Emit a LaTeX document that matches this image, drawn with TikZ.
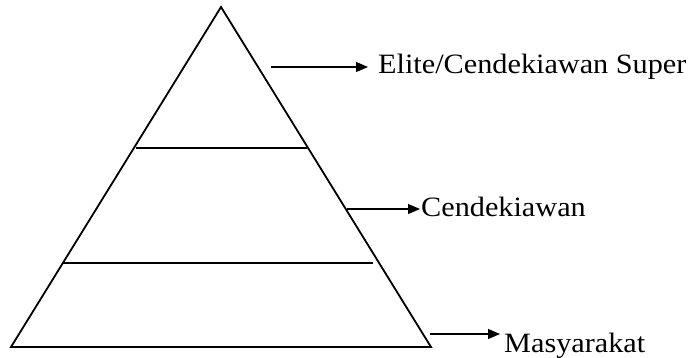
\documentclass[tikz,border=0pt]{standalone}
\usepackage{fontspec}
\setmainfont{Liberation Serif}
\usepackage{graphicx}
\usepackage{tikz}
\usetikzlibrary{positioning,calc,arrows.meta}
\newcommand{\tierfont}{\fontsize{28}{32}\selectfont}
\newcommand{\tiertext}[1]{\scalebox{1.08}[1]{#1}}
\tikzset{
  tier/.style={draw=black, line width=1.8pt, line join=miter},
  divider/.style={draw=black, line width=1.6pt},
  pointer/.style={-{Triangle[length=12pt,width=10pt]}, line width=1.2pt},
  tierlabel/.style={inner sep=0pt, font=\tierfont},
}

\begin{document}
\begin{tikzpicture}[x=1pt, y=-1pt]
  \useasboundingbox (0,0) rectangle (692,357);

  % pyramid
  \coordinate (apex) at (221,7);
  \coordinate (baseL) at (11,347);
  \coordinate (baseR) at (431,347);
  \draw[tier] (apex) -- (baseR) -- (baseL) -- cycle;

  % levels
  \coordinate (cutAL) at (136,148);
  \coordinate (cutAR) at (307,148);
  \coordinate (cutBL) at (63,263);
  \coordinate (cutBR) at (373,263);
  \draw[divider] (cutAL) -- (cutAR);
  \draw[divider] (cutBL) -- (cutBR);

  % labels
  \node[tierlabel, anchor=base west] (elite) at (378,73) {\tiertext{Elite/Cendekiawan Super}};
  \node[tierlabel, anchor=base west] (cendekia) at (421,216) {\tiertext{Cendekiawan}};
  \node[tierlabel, anchor=base west] (masy) at (504,352) {\tiertext{Masyarakat}};

  \coordinate (fromElite) at (271,67);
  \coordinate (fromCendekia) at (347,209);
  \coordinate (fromMasy) at (430,334);

  \draw[pointer, shorten >=10pt] (fromElite) -- (fromElite -| elite.west);
  \draw[pointer, shorten >=1pt] (fromCendekia) -- (fromCendekia -| cendekia.west);
  \draw[pointer, shorten >=4pt] (fromMasy) -- (fromMasy -| masy.west);
\end{tikzpicture}
\end{document}
